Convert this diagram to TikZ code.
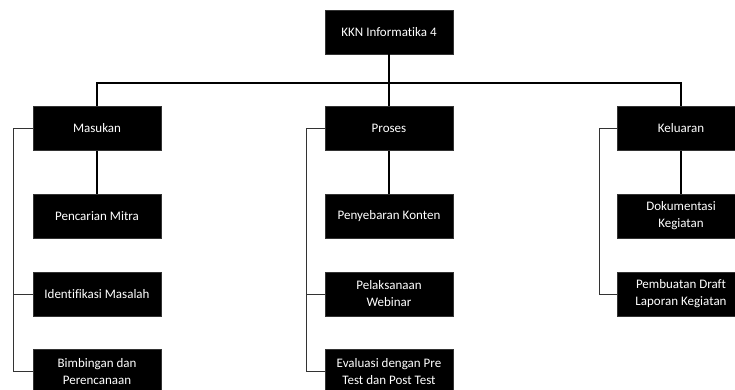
\documentclass[tikz,border=0pt]{standalone}
\usepackage{fontspec}
\setmainfont{Carlito}[Ligatures=NoCommon]
\begin{document}
\begin{tikzpicture}[x=1pt,y=-1pt,
  box/.style={fill=black,draw=black!80,line width=0.6pt,text=white,minimum width=128pt,minimum height=44pt,inner sep=0pt,align=center,font=\fontsize{13}{17}\selectfont},
  main/.style={draw=black,line width=1.1pt},
  side/.style={draw=black!80,line width=0.9pt}]
\clip (0,0) rectangle (735,390);
\fill[white] (0,0) rectangle (735,390);
\node[box] (kkn) at (389,32) {KKN Informatika 4};
\node[box] (mas) at (97,128.5) {Masukan};
\node[box] (pro) at (389,128.5) {Proses};
\node[box] (kel) at (681,128.5) {Keluaran};
\node[box] (pen) at (97,216) {Pencarian Mitra};
\node[box] (ide) at (97,294) {Identifikasi Masalah};
\node[box] (bim) at (97,371.5) {Bimbingan dan\\Perencanaan};
\node[box] (pny) at (389,216) {Penyebaran Konten};
\node[box] (pel) at (389,294) {Pelaksanaan\\Webinar};
\node[box] (eva) at (389,371.5) {Evaluasi dengan Pre\\Test dan Post Test};
\node[box] (dok) at (681,216) {Dokumentasi\\Kegiatan};
\node[box] (pem) at (681,294) {Pembuatan Draft\\Laporan Kegiatan};
\coordinate (bus) at (389,83);
\coordinate (ml) at (13,128.5);
\coordinate (pl) at (306,128.5);
\coordinate (kl) at (599,128.5);
\draw[main] (kkn) -- (bus);
\draw[main] (mas.north) |- (bus) -| (kel.north);
\draw[main] (bus) -- (pro.north);
\draw[main] (mas) -- (pen);
\draw[main] (pro) -- (pny);
\draw[main] (kel) -- (dok);
\draw[side] (mas.west) -- (ml) |- (bim.west);
\draw[side] (ml |- ide.west) -- (ide.west);
\draw[side] (pro.west) -- (pl) |- (eva.west);
\draw[side] (pl |- pel.west) -- (pel.west);
\draw[side] (kel.west) -- (kl) |- (pem.west);
\end{tikzpicture}
\end{document}
